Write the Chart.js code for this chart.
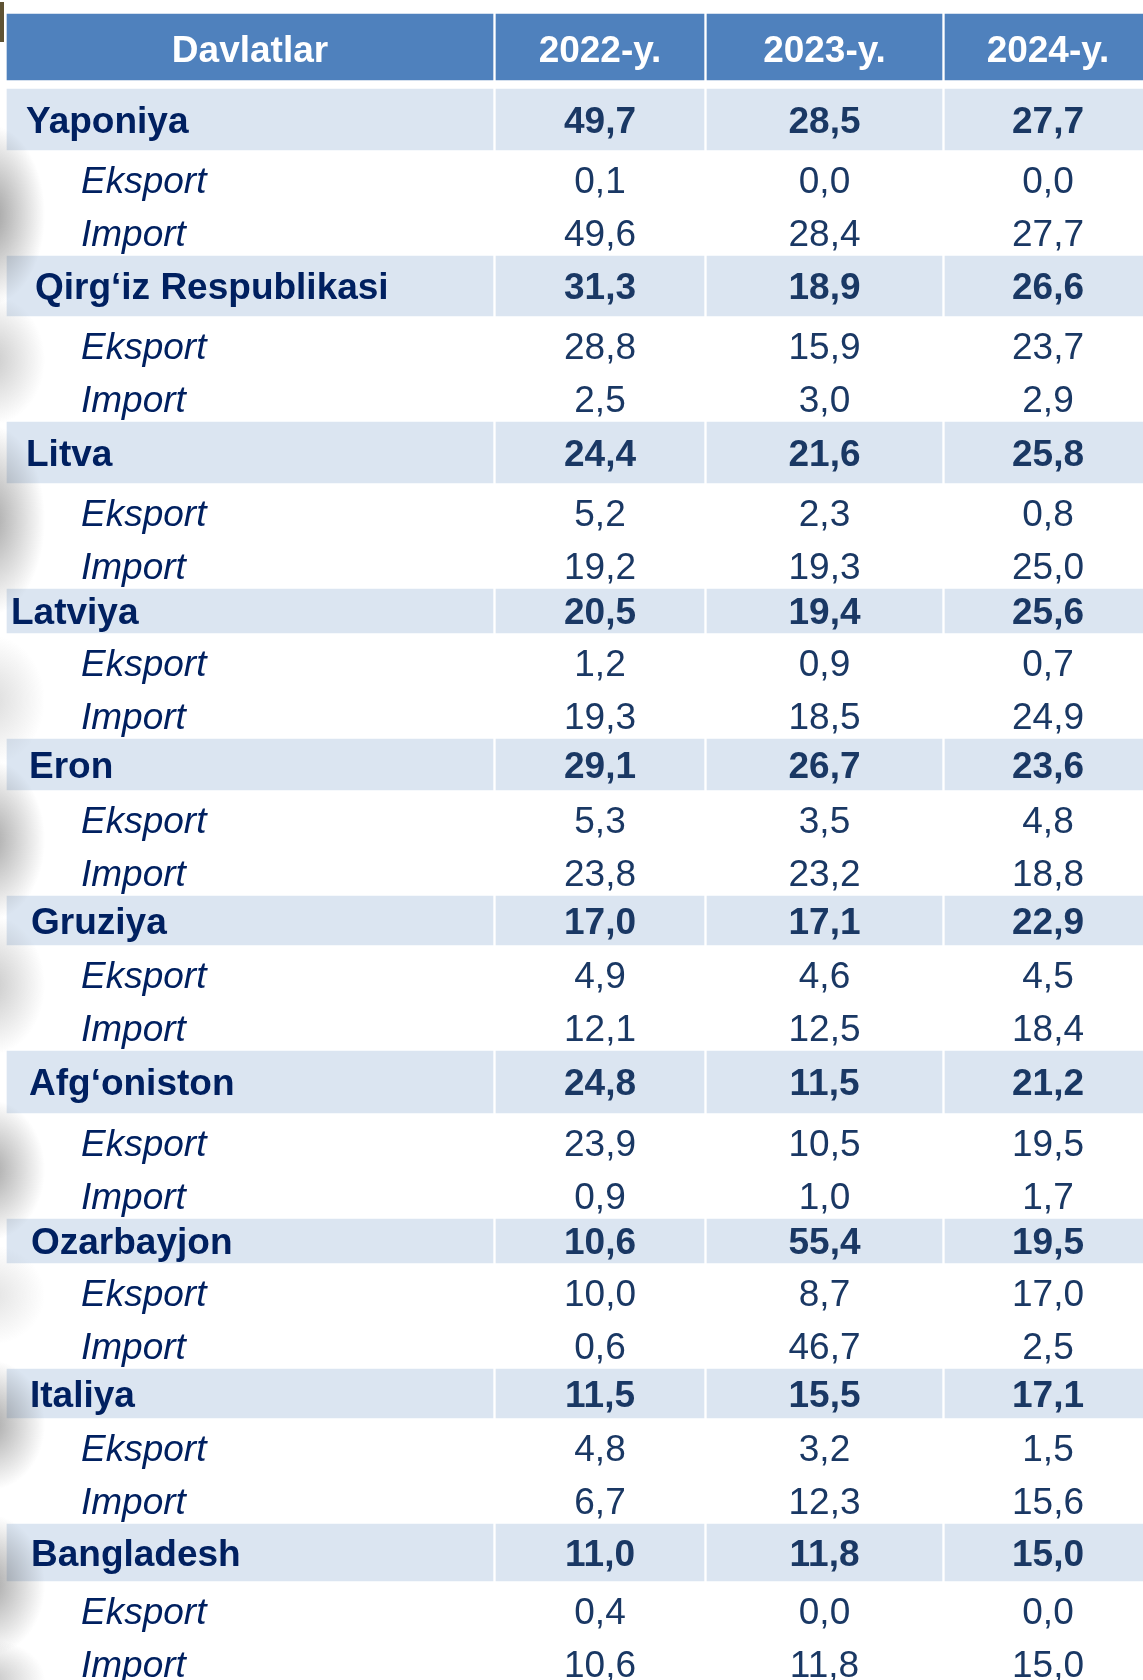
<!DOCTYPE html>
<html>
<head>
<meta charset="utf-8">
<script src="https://cdn.jsdelivr.net/npm/chart.js@4.4.1/dist/chart.umd.min.js"></script>
<style>
html, body { margin: 0; padding: 0; background: #fff; overflow: hidden; }
#wrap { width: 1143px; height: 1680px; }
</style>
</head>
<body>
<div id="wrap"><canvas id="table" width="1143" height="1680"></canvas></div>
<script>
// table content
var headers = ['Davlatlar', '2022-y.', '2023-y.', '2024-y.'];
var countries = ['Yaponiya', 'Qirg‘iz Respublikasi', 'Litva', 'Latviya', 'Eron',
                 'Gruziya', 'Afg‘oniston', 'Ozarbayjon', 'Italiya', 'Bangladesh'];
var subLabels = ['Eksport', 'Import'];

var total2022 = [49.7, 31.3, 24.4, 20.5, 29.1, 17.0, 24.8, 10.6, 11.5, 11.0];
var total2023 = [28.5, 18.9, 21.6, 19.4, 26.7, 17.1, 11.5, 55.4, 15.5, 11.8];
var total2024 = [27.7, 26.6, 25.8, 25.6, 23.6, 22.9, 21.2, 19.5, 17.1, 15.0];

var export2022 = [0.1, 28.8, 5.2, 1.2, 5.3, 4.9, 23.9, 10.0, 4.8, 0.4];
var export2023 = [0.0, 15.9, 2.3, 0.9, 3.5, 4.6, 10.5, 8.7, 3.2, 0.0];
var export2024 = [0.0, 23.7, 0.8, 0.7, 4.8, 4.5, 19.5, 17.0, 1.5, 0.0];

var import2022 = [49.6, 2.5, 19.2, 19.3, 23.8, 12.1, 0.9, 0.6, 6.7, 10.6];
var import2023 = [28.4, 3.0, 19.3, 18.5, 23.2, 12.5, 1.0, 46.7, 12.3, 11.8];
var import2024 = [27.7, 2.9, 25.0, 24.9, 18.8, 18.4, 1.7, 2.5, 15.6, 15.0];

var totals = [total2022, total2023, total2024];
var exports = [export2022, export2023, export2024];
var imports = [import2022, import2023, import2024];

// layout (page units = pixels of the 1143x1680 page)
var headerTop = 14, headerHeight = 66;
var firstBandTop = 89, subRowHeight = 53;
var bandHeights = [61, 60, 61, 44, 51, 49, 62, 44, 49, 57];
var columnEdges = [[7, 493], [496, 704], [707, 942], [945, 1151]];
var nameIndent = [26, 35, 26, 11, 29, 31, 29, 31, 30, 31];
var subIndent = 81;
var capHalf = 13;

var headerBlue = '#4f81bd';
var bandBlue = '#dbe5f1';
var navy = '#002060';
var numberColor = '#1a3864';
var fontFamily = '"Liberation Sans", Arial, sans-serif';
var fontSize = '37px ';

var bands = [];
var pos = firstBandTop;
bandHeights.forEach(function (h) {
    bands.push({ top: pos, bottom: pos + h });
    pos += h + 2 * subRowHeight;
});

function fmt(v) {
    return v.toFixed(1).replace('.', ',');
}

// one floating-bar dataset per column: header cell + country bands
var datasets = columnEdges.map(function (edge, j) {
    var mid = (edge[0] + edge[1]) / 2;
    var cells = [{ x: mid, y: [headerTop, headerTop + headerHeight] }];
    bands.forEach(function (b) {
        cells.push({ x: mid, y: [b.top, b.bottom] });
    });
    return {
        label: headers[j],
        data: cells,
        stack: 'cells',
        barThickness: edge[1] - edge[0],
        borderWidth: 0,
        backgroundColor: function (c) {
            return c.dataIndex === 0 ? headerBlue : bandBlue;
        }
    };
});

var tableText = {
    id: 'tableText',
    afterDatasetsDraw: function (chart) {
        var ctx = chart.ctx;
        var xs = chart.scales.x, ys = chart.scales.y;

        function put(str, xv, yv, font, color, align) {
            ctx.font = font;
            ctx.fillStyle = color;
            ctx.textAlign = align;
            ctx.textBaseline = 'alphabetic';
            ctx.fillText(str, xs.getPixelForValue(xv), ys.getPixelForValue(yv) + capHalf);
        }
        function mid(j) {
            return (columnEdges[j][0] + columnEdges[j][1]) / 2;
        }

        ctx.save();
        headers.forEach(function (h, j) {
            put(h, mid(j), headerTop + headerHeight / 2 + 2, 'bold ' + fontSize + fontFamily, '#ffffff', 'center');
        });

        countries.forEach(function (name, i) {
            var b = bands[i];
            var c = (b.top + b.bottom) / 2;
            put(name, nameIndent[i], c, 'bold ' + fontSize + fontFamily, navy, 'left');
            var rowE = b.bottom + 30, rowI = b.bottom + subRowHeight + 30;
            put(subLabels[0], subIndent, rowE, 'italic ' + fontSize + fontFamily, navy, 'left');
            put(subLabels[1], subIndent, rowI, 'italic ' + fontSize + fontFamily, navy, 'left');
            for (var j = 0; j < 3; j++) {
                put(fmt(totals[j][i]), mid(j + 1), c, 'bold ' + fontSize + fontFamily, numberColor, 'center');
                put(fmt(exports[j][i]), mid(j + 1), rowE, fontSize + fontFamily, numberColor, 'center');
                put(fmt(imports[j][i]), mid(j + 1), rowI, fontSize + fontFamily, numberColor, 'center');
            }
        });
        ctx.restore();
    }
};

// soft page shadow along the left edge: [centre, half height, strength]
var edgeShadows = [[215, 90, 0.5], [360, 65, 0.28], [520, 95, 0.45], [700, 65, 0.18],
                   [840, 80, 0.45], [985, 70, 0.28], [1170, 70, 0.45], [1295, 50, 0.15],
                   [1425, 65, 0.45], [1585, 70, 0.45], [1680, 40, 0.3]];

var edgeShadow = {
    id: 'edgeShadow',
    afterDraw: function (chart) {
        var ctx = chart.ctx, ys = chart.scales.y;
        ctx.save();
        edgeShadows.forEach(function (s) {
            ctx.save();
            ctx.translate(0, ys.getPixelForValue(s[0]));
            ctx.scale(1, s[1] / 55);
            var g = ctx.createRadialGradient(-10, 0, 0, -10, 0, 55);
            g.addColorStop(0, 'rgba(60,60,60,' + s[2] + ')');
            g.addColorStop(0.4, 'rgba(60,60,60,' + (s[2] * 0.6) + ')');
            g.addColorStop(1, 'rgba(60,60,60,0)');
            ctx.fillStyle = g;
            ctx.fillRect(-10, -55, 70, 110);
            ctx.restore();
        });
        // scrap of a picture in the top left corner
        ctx.fillStyle = '#5f5334';
        ctx.fillRect(0, 2, 4, 40);
        ctx.restore();
    }
};

new Chart(document.getElementById('table'), {
    type: 'bar',
    data: { datasets: datasets },
    options: {
        responsive: false,
        animation: false,
        layout: { padding: 0 },
        scales: {
            x: { type: 'linear', min: 0, max: 1143, offset: false, display: false },
            y: { type: 'linear', min: 0, max: 1680, reverse: true, display: false }
        },
        plugins: {
            legend: { display: false },
            tooltip: { enabled: false }
        }
    },
    plugins: [tableText, edgeShadow]
});
</script>
</body>
</html>
